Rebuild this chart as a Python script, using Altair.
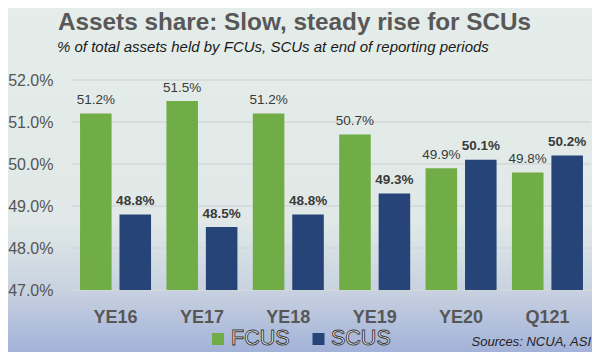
import altair as alt
import pandas as pd

periods = ["YE16", "YE17", "YE18", "YE19", "YE20", "Q121"]
fcus = [51.2, 51.5, 51.2, 50.7, 49.9, 49.8]
scus = [48.8, 48.5, 48.8, 49.3, 50.1, 50.2]
series = ["FCUS", "SCUS"]
colors = ["#70ad47", "#264478"]
y_ticks = [47, 48, 49, 50, 51, 52]

title = "Assets share: Slow, steady rise for SCUs"
subtitle = "% of total assets held by FCUs, SCUs at end of reporting periods"
source = "Sources: NCUA, ASI"

rows = []
for p, f, s in zip(periods, fcus, scus):
    rows.append({"period": p, "series": series[0], "value": f})
    rows.append({"period": p, "series": series[1], "value": s})
df = pd.DataFrame(rows)

W, H = 519, 210
SANS = "Liberation Sans, Arial"

x_enc = alt.X(
    "period:N", sort=periods,
    scale=alt.Scale(paddingInner=0.178, paddingOuter=0.093),
    axis=alt.Axis(title=None, labelFont=SANS, labelFontSize=18, labelFontWeight="bold",
                  labelColor="#575757", ticks=False, tickSize=0, domain=False,
                  labelPadding=18, labelAngle=0, grid=False, zindex=1),
)
xoff_enc = alt.XOffset("series:N", sort=series,
                       scale=alt.Scale(paddingInner=0.2, paddingOuter=0))
y_scale = alt.Scale(domain=[47, 52], nice=False, zero=False)
y_enc = alt.Y(
    "value:Q", scale=y_scale,
    axis=alt.Axis(title=None, values=y_ticks, labelExpr="format(datum.value, '.1f') + '%'",
                  labelFont=SANS, labelFontSize=16, labelColor="#555555",
                  ticks=False, tickSize=0, domain=False, grid=False, labelPadding=19,
                  zindex=1),
)
color_enc = alt.Color("series:N", scale=alt.Scale(domain=series, range=colors), legend=None)

bg = alt.Chart(alt.Data(values=[{}])).mark_rect(
    color=alt.LinearGradient(
        gradient="linear", x1=0, y1=0, x2=0, y2=1,
        stops=[alt.GradientStop(offset=0, color="#e4ede9"),
               alt.GradientStop(offset=0.62, color="#e0e9e7"),
               alt.GradientStop(offset=0.82, color="#c8d2e0"),
               alt.GradientStop(offset=1, color="#a3b2d9")],
    )
).encode(x=alt.value(-64), x2=alt.value(520), y=alt.value(-72), y2=alt.value(272))

grid = alt.Chart(pd.DataFrame({"value": y_ticks})).mark_rule(
    color="#d2d9d9", strokeWidth=1.5
).encode(y=y_enc, x=alt.value(0), x2=alt.value(W))

bars = alt.Chart(df).mark_bar().encode(
    x=x_enc, xOffset=xoff_enc, y=y_enc, y2=alt.datum(y_ticks[0]), color=color_enc)

def labels(name, weight):
    return alt.Chart(df).transform_filter(alt.datum.series == name).transform_calculate(
        label="format(datum.value, '.1f') + '%'"
    ).mark_text(dy=-9.5, baseline="alphabetic", font=SANS, fontSize=13.5,
                fontWeight=weight, color="#3a3a3a").encode(
        x=x_enc, xOffset=xoff_enc, y=y_enc, text="label:N")

lab_f = labels(series[0], "normal")
lab_s = labels(series[1], "bold")

one = alt.Data(values=[{}])
ttl = alt.Chart(one).mark_text(text=title, align="left", baseline="alphabetic",
                               font=SANS, fontSize=24.3, fontWeight="bold",
                               color="#585858").encode(x=alt.value(-14), y=alt.value(-50.5))
sub = alt.Chart(one).mark_text(text=subtitle, align="left", baseline="alphabetic",
                               font=SANS, fontSize=15, fontStyle="italic",
                               color="#1a1a1a").encode(x=alt.value(-15), y=alt.value(-28))
LEG_Y = 259
leg_sq1 = alt.Chart(one).mark_square(size=144, color=colors[0], opacity=1).encode(
    x=alt.value(146), y=alt.value(LEG_Y))
leg_tx1 = alt.Chart(one).mark_text(text=series[0], align="left", baseline="middle",
                                   font=SANS, fontSize=21.5, color="white",
                                   stroke="#3c3c3c", strokeWidth=1).encode(
    x=alt.value(159), y=alt.value(LEG_Y))
leg_sq2 = alt.Chart(one).mark_square(size=144, color=colors[1], opacity=1).encode(
    x=alt.value(246.5), y=alt.value(LEG_Y))
leg_tx2 = alt.Chart(one).mark_text(text=series[1], align="left", baseline="middle",
                                   font=SANS, fontSize=21.5, color="white",
                                   stroke="#3c3c3c", strokeWidth=1).encode(
    x=alt.value(259), y=alt.value(LEG_Y))
src = alt.Chart(one).mark_text(text=source, align="right", baseline="middle",
                               font=SANS, fontSize=13, fontStyle="italic",
                               color="#222222").encode(
    x=alt.value(519), y=alt.value(262))

chart = alt.layer(bg, grid, bars, lab_f, lab_s, ttl, sub,
                  leg_sq1, leg_tx1, leg_sq2, leg_tx2, src).properties(
    width=W, height=H,
    autosize=alt.AutoSizeParams(type="none"),
    padding={"left": 64, "top": 72, "right": 1, "bottom": 62},
).configure_view(strokeWidth=0).configure(background="#e4ede9")

chart.save("out.html", embed_options={"renderer": "svg", "actions": False})
